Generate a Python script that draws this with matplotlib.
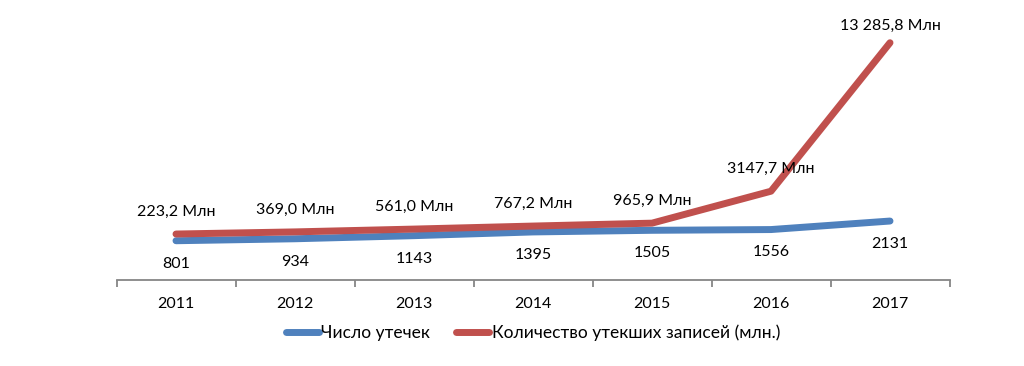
import matplotlib
matplotlib.use('Agg')
import matplotlib.pyplot as plt

# Data
years = ['2011', '2012', '2013', '2014', '2015', '2016', '2017']
leaks = [801, 934, 1143, 1395, 1505, 1556, 2131]
records = [223.2, 369.0, 561.0, 767.2, 965.9, 3147.7, 13285.8]
record_labels = ['223,2 Млн', '369,0 Млн', '561,0 Млн', '767,2 Млн',
                 '965,9 Млн', '3147,7 Млн', '13 285,8 Млн']

BLUE = '#4F81BD'
RED = '#C0504D'

plt.rcParams['font.family'] = ['Lato', 'DejaVu Sans']

fig = plt.figure(figsize=(10.24, 3.66), dpi=100)
ax = fig.add_axes([116.5 / 1024, 1 - 280 / 366, 833 / 1024, 270 / 366])
ax2 = ax.twinx()

x = list(range(len(years)))

ax.plot(x, leaks, color=BLUE, linewidth=5, solid_capstyle='round',
        label='Число утечек', zorder=3)
ax2.plot(x, records, color=RED, linewidth=5, solid_capstyle='round',
         label='Количество утекших записей (млн.)', zorder=3)

# hidden value axes, limits chosen to match vertical placement
ax.set_ylim(-1850, 16380)
ax2.set_ylim(-2916, 15520)
ax.set_xlim(-0.5, len(years) - 0.5)

for a in (ax, ax2):
    for side in ('top', 'right', 'left'):
        a.spines[side].set_visible(False)
    a.spines['bottom'].set_color('#868686')
    a.spines['bottom'].set_linewidth(1.3)
    a.set_yticks([])
ax2.spines['bottom'].set_visible(False)

# category axis: ticks on boundaries, labels centered
ax.set_xticks([i - 0.5 for i in range(len(years) + 1)], minor=False)
ax.set_xticklabels([])
ax.tick_params(axis='x', which='major', length=5, color='#868686', width=1.3)
ax.set_xticks(x, minor=True)
ax.set_xticklabels(years, minor=True, fontsize=11.5)
ax.tick_params(axis='x', which='minor', length=0, pad=12)

for xi, v in zip(x, leaks):
    ax.annotate(str(v), (xi, v), xytext=(0, -16.5), textcoords='offset points',
                ha='center', va='center', fontsize=11.5, color='black')

for xi, v, lab in zip(x, records, record_labels):
    off = 12 if xi == len(x) - 1 else 16
    ax2.annotate(lab, (xi, v), xytext=(0, off), textcoords='offset points',
                 ha='center', va='center', fontsize=11.5, color='black')

h1, l1 = ax.get_legend_handles_labels()
h2, l2 = ax2.get_legend_handles_labels()
fig.legend(h1 + h2, l1 + l2, loc='center', bbox_to_anchor=(533 / 1024, 1 - 333 / 366),
           ncol=2, frameon=False, fontsize=12.5, handlelength=1.9,
           handletextpad=0.15, columnspacing=1.5)

fig.savefig('out.png', dpi=100)
